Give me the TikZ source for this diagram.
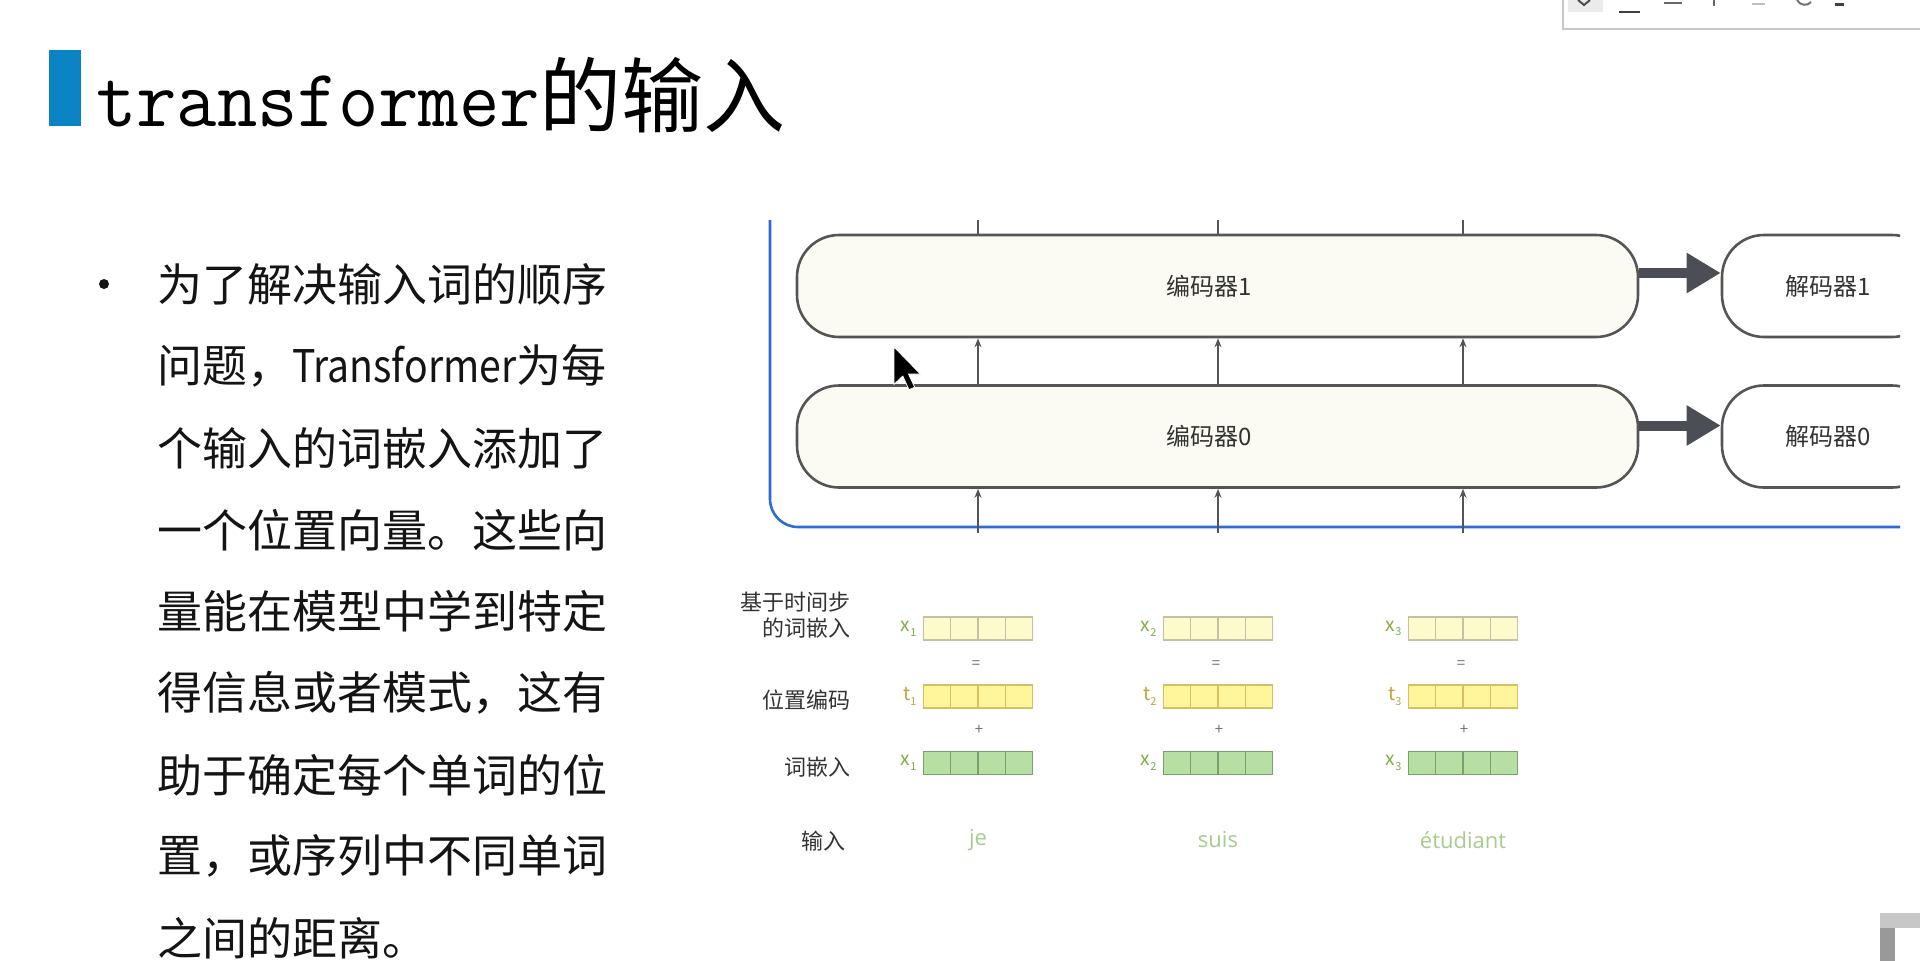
\documentclass[tikz,border=0pt]{standalone}
\usepackage{fontspec}
\setmainfont{Noto Sans CJK SC}
\newfontfamily\cjk{Noto Sans CJK SC}
\newfontfamily\wordfont{Open Sans}
\usetikzlibrary{arrows.meta,calc}
\definecolor{titleblue}{HTML}{0B84C6}
\definecolor{bodytext}{HTML}{141414}
\definecolor{encfill}{HTML}{FBFBF4}
\definecolor{encdraw}{HTML}{555555}
\definecolor{bigarr}{HTML}{4B4E54}
\definecolor{bluel}{HTML}{2F6BD8}
\definecolor{vxfill}{HTML}{FDFBCB}
\definecolor{vxdraw}{HTML}{C4C2A2}
\definecolor{vtfill}{HTML}{FFF59A}
\definecolor{vtdraw}{HTML}{D7BF62}
\definecolor{vgfill}{HTML}{B8DFA3}
\definecolor{vgdraw}{HTML}{7B9F6E}
\definecolor{xgreen}{HTML}{7DB043}
\definecolor{tgold}{HTML}{C6A23A}
\definecolor{wordgreen}{HTML}{A8CB8E}
\definecolor{labgray}{HTML}{333333}
\newcommand\sublab[2]{#1\raisebox{-0.25em}{\fontsize{11}{11}\selectfont #2}}
\begin{document}
\begin{tikzpicture}[x=1pt,y=-1pt,
  bodyline/.style={anchor=west, inner sep=0, text=bodytext, font=\fontsize{45}{45}\selectfont},
  encbox/.style={draw=encdraw, fill=encfill, line width=2.6pt, rounded corners=42pt, minimum width=841pt, minimum height=102pt, inner sep=0, text=labgray, font=\fontsize{24}{24}\selectfont},
  decbox/.style={draw=encdraw, fill=white, line width=2.6pt, rounded corners=42pt, minimum width=212pt, minimum height=102pt, inner sep=0, text=labgray, font=\fontsize{24}{24}\selectfont},
  bigarrow/.style={draw=bigarr, line width=10pt, -{Triangle[length=34pt,width=38pt]}},
  thinarrow/.style={draw=encdraw, line width=1.6pt, -{Stealth[length=9pt,width=7pt]}},
  thinline/.style={draw=encdraw, line width=1.6pt},
  cell/.style={minimum width=27.3pt, minimum height=23pt, inner sep=0, line width=1.3pt},
  vecx/.style={cell, draw=vxdraw, fill=vxfill},
  vect/.style={cell, draw=vtdraw, fill=vtfill},
  vecg/.style={cell, draw=vgdraw, fill=vgfill},
  rowlab/.style={anchor=east, inner sep=0, text=labgray, font=\fontsize{22}{22}\selectfont},
  sym/.style={inner sep=0, text=black!55, font=\fontsize{15}{15}\selectfont},
  word/.style={inner sep=0, text=wordgreen, font=\wordfont\fontsize{22}{22}\selectfont},
  xlab/.style={anchor=east, inner sep=0, text=xgreen, font=\fontsize{19}{19}\selectfont},
  tlab/.style={anchor=east, inner sep=0, text=tgold, font=\fontsize{19}{19}\selectfont}]
\useasboundingbox (0,0) rectangle (1920,961);
\fill[white] (0,0) rectangle (1920,961);

% toolbar fragment top right
\draw[black!22, fill=white, line width=1.6pt] (1563,-10) rectangle (1930,29);
\fill[black!8] (1568,-5) rectangle (1603,12);
\draw[black!70, line width=2pt] (1578,0) -- (1584,5) -- (1590,0);
\draw[black!75, line width=2.2pt] (1619,12) -- (1640,12);
\draw[black!60, line width=2pt] (1664,3) -- (1682,3);
\draw[black!60, line width=2pt] (1714,0) -- (1714,6);
\draw[black!25, line width=2pt] (1752,4) -- (1765,4);
\draw[black!55, line width=2pt] (1797,0) .. controls (1800,6) and (1808,6) .. (1811,2);
\draw[black!75, line width=3pt] (1835,4) -- (1844,4);

% title
\fill[titleblue] (49,50) rectangle (81,126);
\node[anchor=base west, inner sep=0] (title) at (96,126) {\fontsize{82}{82}\selectfont\scalebox{0.955}[1]{\ttfamily transformer}\cjk 的输入};

% body text
\node[circle, fill=bodytext, inner sep=0, minimum size=10pt] (bullet) at (104,284) {};
\node[bodyline] (l1) at (157,284) {为了解决输入词的顺序};
\node[bodyline] (l2) at (157,366) {问题，\scalebox{0.87}[1]{Transformer}为每};
\node[bodyline] (l3) at (157,448) {个输入的词嵌入添加了};
\node[bodyline] (l4) at (157,530) {一个位置向量。这些向};
\node[bodyline] (l5) at (157,611) {量能在模型中学到特定};
\node[bodyline] (l6) at (157,693) {得信息或者模式，这有};
\node[bodyline] (l7) at (157,775) {助于确定每个单词的位};
\node[bodyline] (l8) at (157,856) {置，或序列中不同单词};
\node[bodyline] (l9) at (157,938) {之间的距离。};

% encoders / decoders
\begin{scope}
\clip (0,0) rectangle (1900,961);
\draw[bluel, line width=2.6pt, rounded corners=28pt] (770,220) -- (770,527) -- (1905,527);
\node[encbox] (enc1) at (1217.5,286) {\hspace*{-16pt}编码器1};
\node[encbox] (enc0) at (1217.5,436.5) {\hspace*{-16pt}编码器0};
\node[decbox] (dec1) at (1828,286) {解码器1};
\node[decbox] (dec0) at (1828,436.5) {解码器0};
\end{scope}
\draw[bigarrow] ([yshift=13pt]enc1.east) -- ([yshift=13pt]dec1.west);
\draw[bigarrow] ([yshift=11pt]enc0.east) -- ([yshift=11pt]dec0.west);

\foreach \i/\cx in {1/978,2/1218,3/1463}{
  \coordinate (top\i) at (\cx,220);
  \coordinate (bot\i) at (\cx,533);
  \coordinate (col\i) at (\cx,0);
  \draw[thinline] (col\i |- enc1.north) -- (top\i);
  \draw[thinarrow] (col\i |- enc0.north) -- (col\i |- enc1.south);
  \draw[thinarrow] (bot\i) -- (col\i |- enc0.south);
}

% cursor
\begin{scope}[shift={(894,347)}, x=2.2pt, y=-2.2pt]
\fill[black, draw=white, line width=0.8pt] (0,0) -- (0,17) -- (4,13.2) -- (6.8,19.4) -- (9.4,18.3) -- (6.6,12.3) -- (12,12.3) -- cycle;
\end{scope}

% row labels
\node[rowlab] (lab1a) at (851,602) {基于时间步};
\node[rowlab] (lab1b) at (851,628) {的词嵌入};
\node[rowlab] (lab2) at (851,700) {位置编码};
\node[rowlab] (lab3) at (851,767) {词嵌入};
\node[rowlab] (lab4) at (846,841) {输入};

% vectors
\foreach \c/\cx/\w in {1/978/je,2/1218/suis,3/1463/étudiant}{
  \foreach \k in {0,...,3}{
    \node[vecx] (v-\c-e-\k) at ({\cx-40.95+27.3*\k},628.5) {};
    \node[vect] (v-\c-t-\k) at ({\cx-40.95+27.3*\k},696.5) {};
    \node[vecg] (v-\c-g-\k) at ({\cx-40.95+27.3*\k},763) {};
  }
  \node[xlab] (xe\c) at ([xshift=-6pt]v-\c-e-0.west) {\sublab{x}{\c}};
  \node[tlab] (te\c) at ([xshift=-6pt]v-\c-t-0.west) {\sublab{t}{\c}};
  \node[xlab] (xg\c) at ([xshift=-6pt]v-\c-g-0.west) {\sublab{x}{\c}};
  \node[sym] (eq\c) at (\cx-2,665) {=};
  \node[sym] (pl\c) at (\cx+1,730) {+};
  \node[word] (w\c) at (\cx,840) {\w};
}

% bottom right corner mark
\fill[black!22] (1880,913) rectangle (1920,928);
\fill[black!40] (1880,928) rectangle (1895,961);
\end{tikzpicture}
\end{document}
